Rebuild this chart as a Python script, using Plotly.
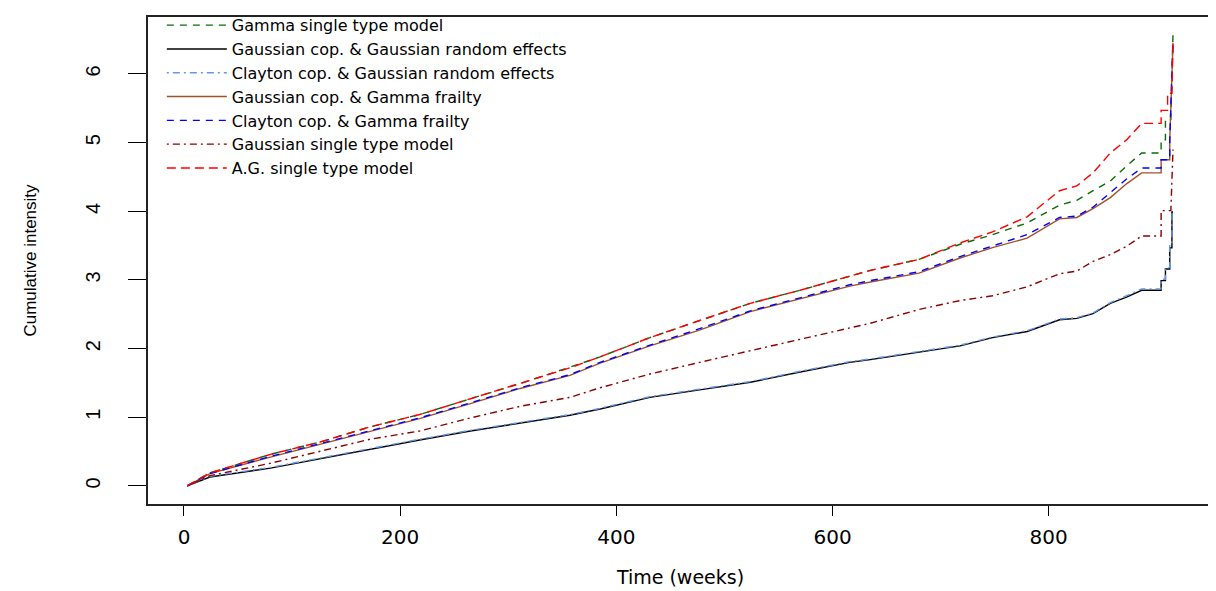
import plotly.graph_objects as go

# ---- data ----
series_names = [
    "Gamma single type model",
    "Gaussian cop. & Gaussian random effects",
    "Clayton cop. & Gaussian random effects",
    "Gaussian cop. & Gamma frailty",
    "Clayton cop. & Gamma frailty",
    "Gaussian single type model",
    "A.G. single type model",
]

base_t = [3, 24, 80, 126, 172, 218, 265, 311, 357, 385, 431, 477, 524, 570, 616, 635,
          680, 718, 748, 780, 810, 826, 841, 857, 872, 886]

gamma_t = base_t + [904, 904, 908, 908, 913, 915]
gamma_y = [0, 0.19, 0.46, 0.64, 0.86, 1.04, 1.27, 1.49, 1.73, 1.88, 2.16, 2.41, 2.66, 2.85, 3.06, 3.14,
           3.30, 3.52, 3.66, 3.83, 4.09, 4.16, 4.30, 4.44, 4.66, 4.85,
           4.85, 5.04, 5.04, 5.34, 5.34, 6.59]

gauss_gauss_t = base_t + [904, 904, 908, 908, 912, 912, 914, 914, 915, 915]
gauss_gauss_y = [0, 0.13, 0.26, 0.40, 0.54, 0.67, 0.80, 0.91, 1.03, 1.12, 1.29, 1.40, 1.51, 1.66, 1.80, 1.84,
                 1.95, 2.04, 2.16, 2.25, 2.42, 2.44, 2.51, 2.66, 2.75, 2.85,
                 2.85, 2.99, 2.99, 3.16, 3.16, 3.47, 3.47, 3.99, 3.99, 3.99]

clay_gauss_t = base_t + [904, 904, 908, 908, 912, 912, 914, 914, 915, 915]
clay_gauss_y = [0, 0.14, 0.27, 0.41, 0.55, 0.68, 0.81, 0.92, 1.04, 1.13, 1.30, 1.41, 1.52, 1.67, 1.81, 1.85,
                1.96, 2.05, 2.17, 2.26, 2.43, 2.45, 2.52, 2.67, 2.77, 2.87,
                2.87, 3.01, 3.01, 3.18, 3.18, 3.50, 3.50, 4.02, 4.02, 4.02]

gauss_gamma_t = base_t + [904, 904, 912, 912, 915]
gauss_gamma_y = [0, 0.18, 0.42, 0.61, 0.80, 0.98, 1.20, 1.42, 1.61, 1.79, 2.04, 2.27, 2.54, 2.73, 2.91, 2.97,
                 3.10, 3.32, 3.47, 3.61, 3.89, 3.91, 4.04, 4.20, 4.40, 4.56,
                 4.56, 4.75, 4.75, 5.04, 6.45]

clay_gamma_t = base_t + [904, 904, 912, 912, 915]
clay_gamma_y = [0, 0.18, 0.43, 0.62, 0.81, 0.99, 1.21, 1.43, 1.62, 1.80, 2.05, 2.29, 2.55, 2.74, 2.93, 2.99,
                3.12, 3.34, 3.49, 3.66, 3.91, 3.93, 4.06, 4.27, 4.47, 4.63,
                4.63, 4.75, 4.75, 5.04, 6.50]

gauss_single_t = base_t + [904, 904, 913, 915]
gauss_single_y = [0, 0.15, 0.33, 0.51, 0.68, 0.80, 0.99, 1.16, 1.29, 1.43, 1.63, 1.80, 1.97, 2.13, 2.30, 2.37,
                  2.57, 2.70, 2.77, 2.90, 3.09, 3.13, 3.27, 3.37, 3.49, 3.64,
                  3.64, 4.01, 4.01, 4.90]

ag_t = base_t + [904, 904, 910, 910, 914, 915]
ag_y = [0, 0.19, 0.46, 0.64, 0.86, 1.04, 1.27, 1.49, 1.72, 1.88, 2.16, 2.41, 2.66, 2.85, 3.06, 3.14,
        3.30, 3.54, 3.70, 3.92, 4.30, 4.37, 4.56, 4.85, 5.04, 5.28,
        5.28, 5.47, 5.47, 5.72, 5.72, 6.51]

x_ticks = [0, 200, 400, 600, 800]
y_ticks = [0, 1, 2, 3, 4, 5, 6]

all_t = [gamma_t, gauss_gauss_t, clay_gauss_t, gauss_gamma_t, clay_gamma_t, gauss_single_t, ag_t]
all_y = [gamma_y, gauss_gauss_y, clay_gauss_y, gauss_gamma_y, clay_gamma_y, gauss_single_y, ag_y]

# ---- styles ----
colors = ["#0B6B0B", "#000000", "#6495ED", "#A0522D", "#0000FF", "#8B0000", "#FF0000"]
dashes = ["7px,6px", "solid", "2px,4px,7px,4px", "solid", "7px,6px", "2px,4px,7px,4px", "9px,5px"]

fig = go.Figure()
for name, t, y, c, d in zip(series_names, all_t, all_y, colors, dashes):
    fig.add_trace(go.Scatter(x=t, y=y, mode="lines", name=name,
                             line=dict(color=c, width=1.4, dash=d)))

H_FONT = "DejaVu Sans, Liberation Sans, Arial, sans-serif"
V_FONT = "Liberation Sans Narrow, Liberation Sans, Arial, sans-serif"

# the page body has an 8px margin, so the figure is sized to fit the window
fig.update_layout(
    width=1208, height=583, autosize=False,
    margin=dict(l=140, r=3, t=0, b=87),
    plot_bgcolor="white", paper_bgcolor="white",
    showlegend=True,
    legend=dict(x=0.013, y=1.018, xanchor="left", yanchor="top",
                bgcolor="rgba(0,0,0,0)", borderwidth=0,
                font=dict(family=H_FONT, size=16, color="black"),
                itemwidth=60, tracegroupgap=0),
)
fig.update_xaxes(
    automargin=False,
    range=[-33.3, 952], tickvals=x_ticks, ticks="outside", ticklen=10, tickwidth=1.2,
    tickcolor="black", showgrid=False, zeroline=False,
    showline=True, mirror=True, linecolor="#222222", linewidth=1.6,
    tickfont=dict(family=H_FONT, size=20, color="black"), ticklabelstandoff=4,
    title=dict(text="Time (weeks)", font=dict(family=H_FONT, size=19, color="black"), standoff=23),
)
fig.update_yaxes(
    automargin=False,
    range=[-0.263, 6.83], tickvals=y_ticks, ticks="outside", ticklen=18, tickwidth=1.2,
    tickcolor="black", showgrid=False, zeroline=False,
    showline=True, mirror=True, linecolor="#222222", linewidth=1.6,
    tickangle=-90,
    tickfont=dict(family=V_FONT, size=20, color="black"), ticklabelstandoff=20,
    title=dict(text="Cumulative intensity", font=dict(family=V_FONT, size=17, color="black"), standoff=41),
)

fig.write_html("out.html")
